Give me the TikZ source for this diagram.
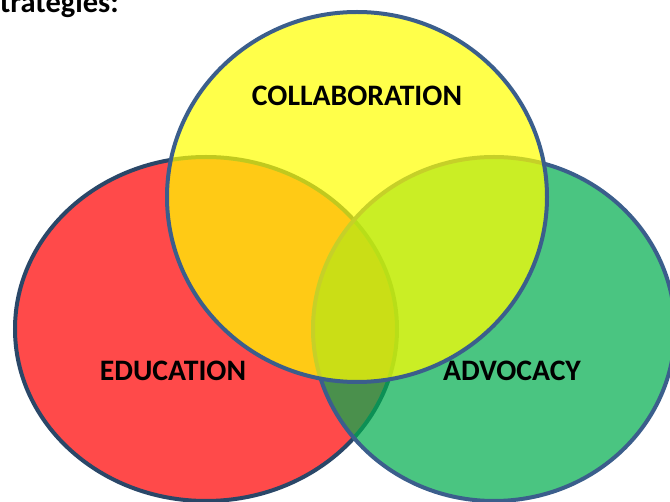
\documentclass[tikz,border=0pt]{standalone}
\usepackage{fontspec}
\setmainfont{Carlito}
\definecolor{cred}{HTML}{FF0000}
\definecolor{cgreen}{HTML}{00AE4E}
\definecolor{cyellow}{HTML}{FFFF00}
\definecolor{edgeblue}{HTML}{3B5E8C}
\definecolor{edgedark}{HTML}{2A4768}
\begin{document}
\begin{tikzpicture}[x=1pt,y=-1pt,
  setfill/.style={fill opacity=0.71, draw opacity=1, line width=4pt},
  lbl/.style={font=\fontsize{29.7}{36}\selectfont\bfseries, text=black, inner sep=0pt}]
\useasboundingbox (0,0) rectangle (670,502);
\clip (0,0) rectangle (670,502);
\fill[white] (0,0) rectangle (670,502);
% ellipses
\draw[setfill, fill=cred, draw=edgedark] (206,329) ellipse [x radius=191, y radius=172];
\draw[setfill, fill=cgreen, draw=edgeblue] (494,329) ellipse [x radius=181, y radius=172];
\draw[setfill, fill=cyellow, draw=edgeblue] (357,197) ellipse [x radius=190, y radius=185];
% labels
\node[lbl] (collab) at (357,96) {COLLABORATION};
\node[lbl] (edu) at (173,371) {EDUCATION};
\node[lbl] (adv) at (512,371) {ADVOCACY};
\node[lbl, font=\fontsize{30.5}{36}\selectfont\bfseries, anchor=base east] (title) at (119,13) {Strategies:};
\end{tikzpicture}
\end{document}
